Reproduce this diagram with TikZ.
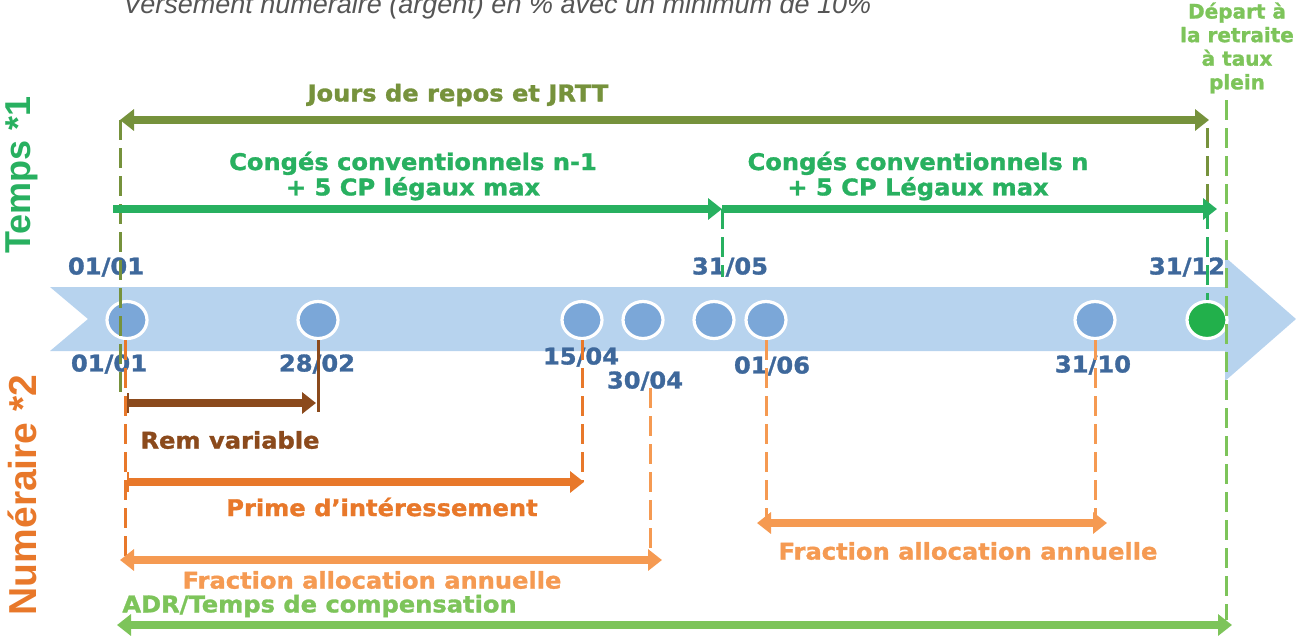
\documentclass[tikz,border=0pt]{standalone}
\usepackage{fontspec}
\newfontfamily\lblfont{DejaVu Sans}[FakeStretch=1.05, BoldFeatures={FakeBold=1.3}]
\newfontfamily\departfont{DejaVu Sans}[BoldFeatures={FakeBold=1.3}]
\newfontfamily\sidefont{Liberation Sans}
\usetikzlibrary{arrows.meta,shapes.geometric,positioning}

\definecolor{bandblue}{RGB}{183,211,238}
\definecolor{dotblue}{RGB}{123,167,216}
\definecolor{endgreen}{RGB}{34,176,75}
\definecolor{dateblue}{RGB}{62,104,155}
\definecolor{olive}{RGB}{118,146,60}
\definecolor{conggreen}{RGB}{40,176,96}
\definecolor{lightgreen}{RGB}{125,196,90}
\definecolor{remBrown}{RGB}{139,74,28}
\definecolor{darkorange}{RGB}{232,120,42}
\definecolor{lightorange}{RGB}{245,154,82}
\definecolor{notegray}{RGB}{85,85,85}

\tikzset{
  lbl/.style={font=\lblfont\bfseries\fontsize{11.5}{11.5}\selectfont, inner sep=0pt, align=center},
  datelbl/.style={lbl, text=dateblue},
  side/.style={font=\sidefont\bfseries\fontsize{18}{20}\selectfont, inner sep=0pt, rotate=90},
  dot/.style={ellipse, draw=white, line width=1.6pt, fill=dotblue, minimum width=20pt, minimum height=18.5pt, inner sep=0pt},
  guide/.style={line width=1.5pt, dash pattern=on 10pt off 4pt},
  span/.style={line width=4pt},
}

\begin{document}
\begin{tikzpicture}[x=0.5pt,y=-0.5pt,>={Triangle[length=7pt,width=10.5pt]}]
\useasboundingbox (0,0) rectangle (1296,639);

% line of text cut by the top edge
\node[font=\sidefont\itshape\fontsize{13.5}{15}\selectfont, text=notegray, anchor=base west, inner sep=0pt] (note) at (123,13) {Versement numéraire (argent) en \% avec un minimum de 10\%};

% side titles
\node[side, text=conggreen] (temps) at (22,175) {Temps *1};
\node[side, text=darkorange, font=\sidefont\bfseries\fontsize{19.5}{21}\selectfont] (numer) at (22,495) {Numéraire *2};

% time band
\fill[bandblue] (50,287) -- (1225,287) -- (1225,257) -- (1296,319) -- (1225,381) -- (1225,351) -- (50,351) -- (88,319) -- cycle;

% dates on the band
\foreach \name/\x in {0101/127, 2802/318, 1504/582, 3004/643, 3105/714, 0106/766, 3110/1095}
  \node[dot] (c\name) at (\x,320) {};
\node[dot, fill=endgreen] (c3112) at (1207,320) {};

\node[datelbl] (up0101) at (106,267) {01/01};
\node[datelbl] (up3105) at (730,267) {31/05};
\node[datelbl] (up3112) at (1187,267) {31/12};
\node[datelbl] (lo0101) at (109,364) {01/01};
\node[datelbl] (lo2802) at (317,364) {28/02};
\node[datelbl] (lo1504) at (581,357) {15/04};
\node[datelbl] (lo3004) at (645,381) {30/04};
\node[datelbl] (lo0106) at (772,366) {01/06};
\node[datelbl] (lo3110) at (1093,365) {31/10};

% labels
\node[lbl, text=olive] (jours) at (458,95) {Jours de repos et JRTT};
\node[lbl, text=conggreen] (cong1) at (413,176) {Congés conventionnels n-1\\+ 5 CP légaux max};
\node[lbl, text=conggreen] (cong2) at (918,176) {Congés conventionnels n\\+ 5 CP Légaux max};
\node[lbl, text=lightgreen, font=\departfont\bfseries\fontsize{10}{11.8}\selectfont] (depart) at (1237,48) {Départ à\\la retraite\\à taux\\plein};
\node[lbl, text=remBrown] (rem) at (230,440) {Rem variable};
\node[lbl, text=darkorange] (prime) at (382,507) {Prime d’intéressement};
\node[lbl, text=lightorange] (frac1) at (372,580) {Fraction allocation annuelle};
\node[lbl, text=lightorange] (frac2) at (968,551) {Fraction allocation annuelle};
\node[lbl, text=lightgreen, anchor=west] (adr) at (122,606) {ADR/Temps de compensation};

% arrow ends
\coordinate (jL) at (120,120);
\coordinate (jR) at (1209,120);
\coordinate (cpA) at (113,209);
\coordinate (cpB) at (722,209);
\coordinate (cpC) at (1217,209);
\coordinate (remL) at (127,403);
\coordinate (remR) at (316,403);
\coordinate (primeL) at (127,482);
\coordinate (primeR) at (584,482);
\coordinate (fracL) at (120,560);
\coordinate (fracR) at (662,560);
\coordinate (frac2L) at (757,523);
\coordinate (frac2R) at (1107,523);
\coordinate (adrL) at (117,625);
\coordinate (adrR) at (1232,625);

% guides
\draw[guide, olive] (jL) -- ++(0,272);
\draw[guide, olive] (1207,128) -- (1207,204);
\draw[guide, conggreen] (cpB) -- (cpB |- up3105.south);
\draw[guide, conggreen] (c3112 |- cpC) -- (c3112.north);
\draw[guide, lightgreen] (1226,100) -- (1226,620);
\draw[guide, darkorange] (125,340) -- (125,560);
\draw[guide, darkorange] (c1504.south) -- (c1504 |- primeR);
\draw[guide, lightorange] (650,388) -- (650,560);
\draw[guide, lightorange] (c0106.south) -- (c0106 |- frac2L);
\draw[guide, lightorange] (c3110.south) -- (c3110 |- frac2R);
\draw[line width=1.5pt, remBrown] (c2802.south) -- (c2802 |- 0,412);

% spans
\draw[span, olive, <->] (jL) -- (jR);
\draw[span, conggreen, ->] (cpA) -- (cpB);
\draw[span, conggreen, ->] (cpB) -- (cpC);
\draw[span, remBrown, {Bar[width=10pt,line width=1.2pt]}->] (remL) -- (remR);
\draw[span, darkorange, {Bar[width=10pt,line width=1.2pt]}->] (primeL) -- (primeR);
\draw[span, lightorange, <->] (fracL) -- (fracR);
\draw[span, lightorange, <->] (frac2L) -- (frac2R);
\draw[span, lightgreen, <->] (adrL) -- (adrR);
\end{tikzpicture}
\end{document}
